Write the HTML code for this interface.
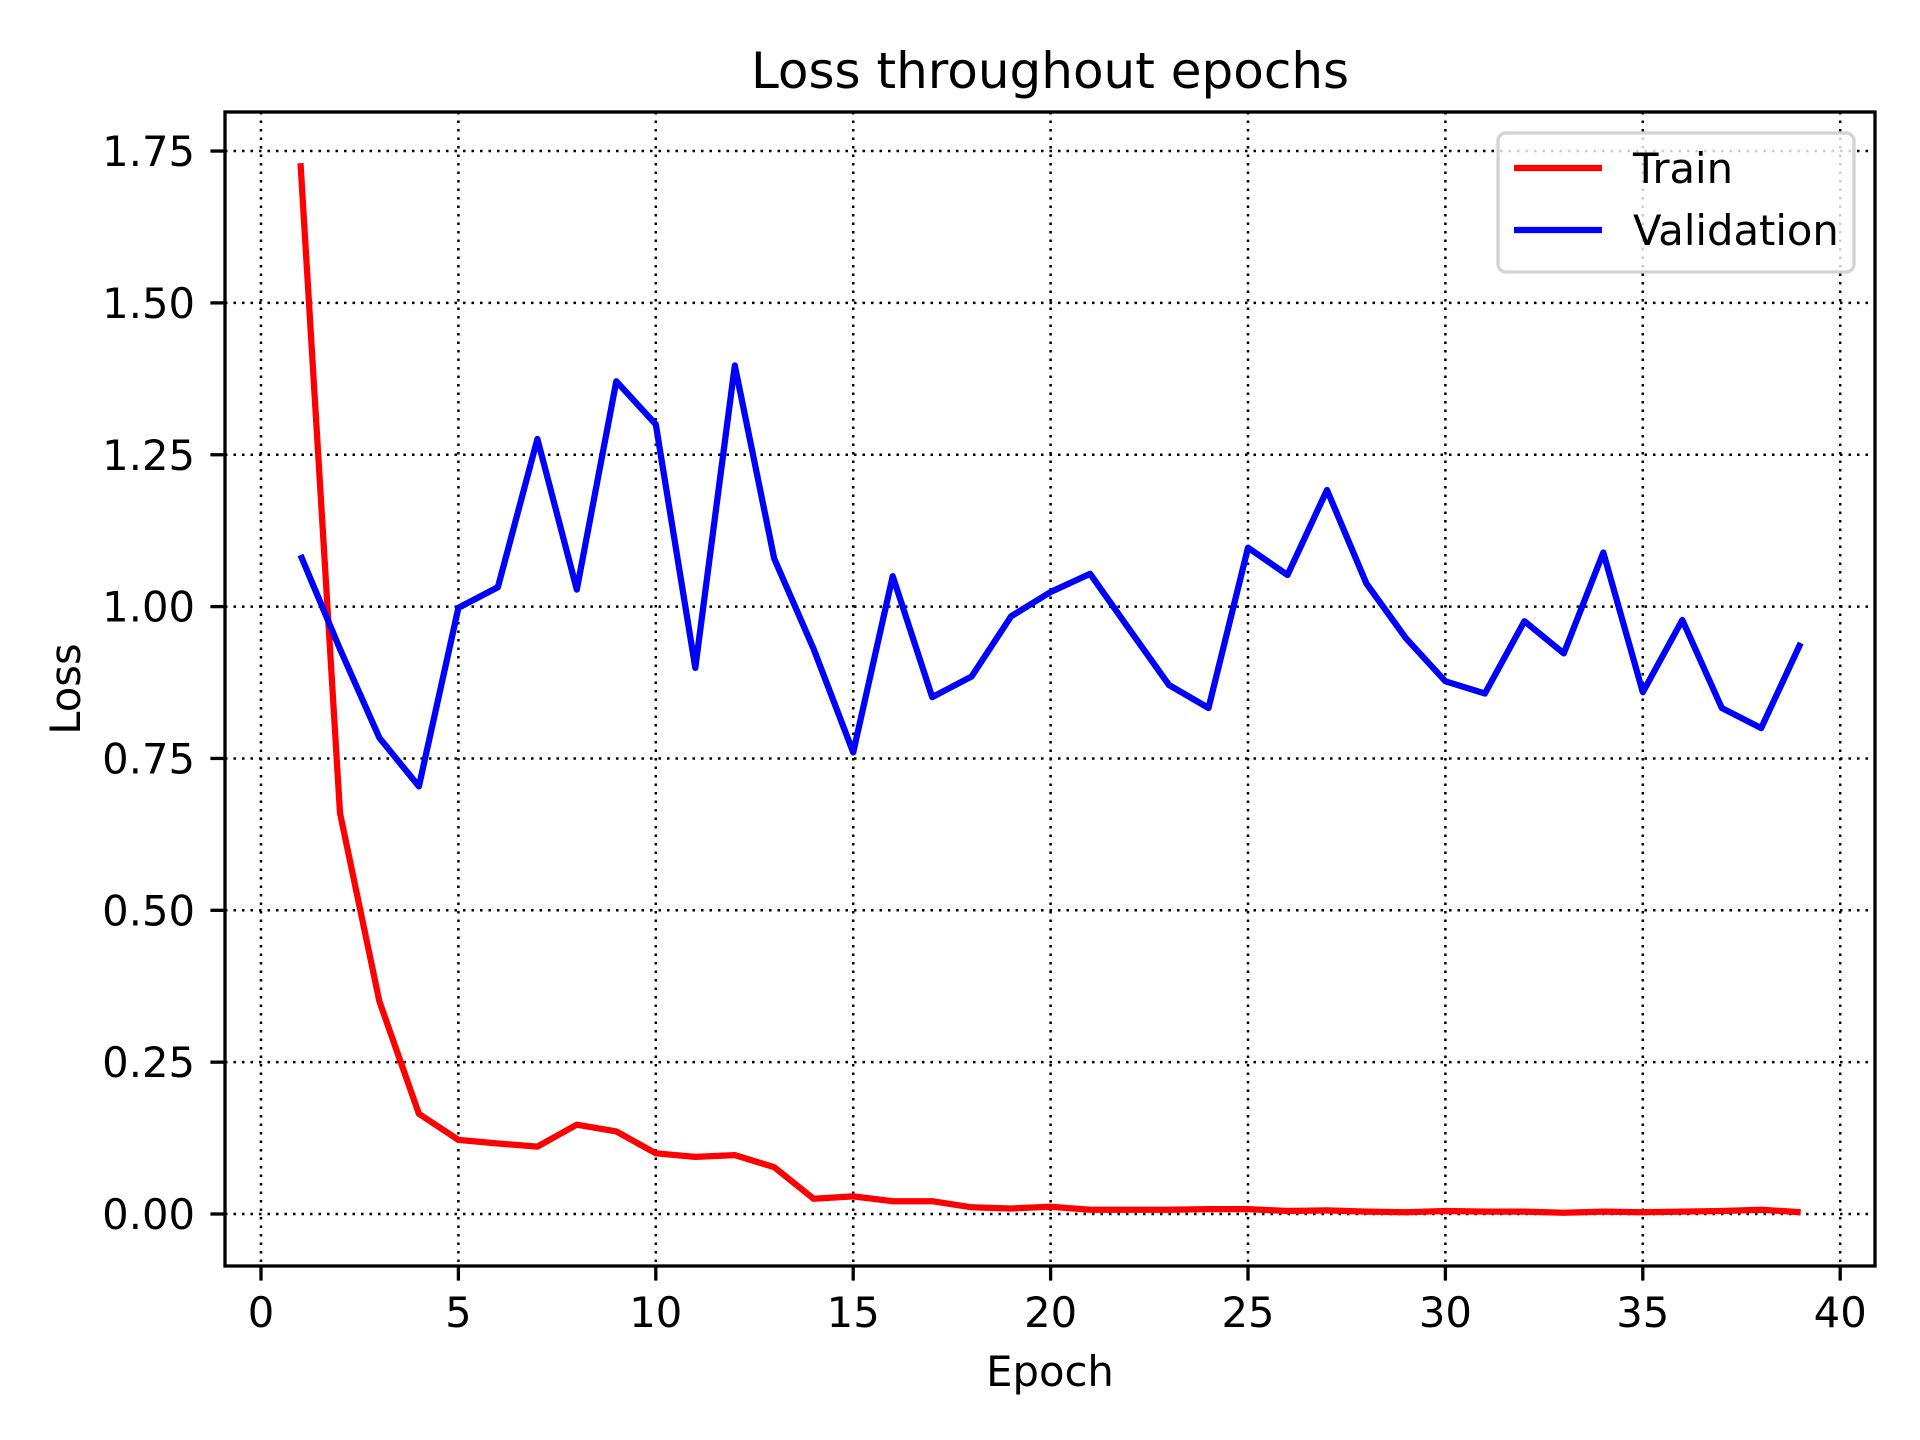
<!DOCTYPE html>
<html><head><meta charset="utf-8"><style>
html,body{margin:0;padding:0;background:#fff;}
svg{display:block;font-family:"DejaVu Sans","Liberation Sans",sans-serif;}
</style></head><body>
<svg id="chart" width="1920" height="1440" viewBox="0 0 1920 1440" xmlns="http://www.w3.org/2000/svg">
<rect width="1920" height="1440" fill="#fff"/>
<g id="grid"></g>
<g id="series"></g>
<rect x="225" y="112" width="1650" height="1154" fill="none" stroke="#000" stroke-width="3.3"/>
<g id="ticks"></g>
<text x="1050" y="88" font-size="50" text-anchor="middle">Loss throughout epochs</text>
<text x="1050" y="1386" font-size="41.7" text-anchor="middle">Epoch</text>
<text x="0" y="0" font-size="41.7" text-anchor="middle" transform="translate(80,689) rotate(-90)">Loss</text>
<g>
<rect x="1498" y="133" width="356" height="139" rx="8" fill="#fff" fill-opacity="0.8" stroke="#d3d3d3" stroke-width="3.3"/>
<line x1="1514" y1="168" x2="1602" y2="168" stroke="#ff0000" stroke-width="6.25"/>
<text x="1633" y="183" font-size="41.7">Train</text>
<line x1="1514" y1="230" x2="1602" y2="230" stroke="#0000ff" stroke-width="6.25"/>
<text x="1633" y="245" font-size="41.7">Validation</text>
</g>
</svg>
<script>
const epochs = [1,2,3,4,5,6,7,8,9,10,11,12,13,14,15,16,17,18,19,20,21,22,23,24,25,26,27,28,29,30,31,32,33,34,35,36,37,38,39];
const trainLoss = [1.73,0.66,0.35,0.165,0.122,0.116,0.111,0.147,0.136,0.1,0.094,0.097,0.077,0.025,0.029,0.021,0.021,0.011,0.009,0.012,0.007,0.007,0.007,0.008,0.008,0.005,0.006,0.004,0.003,0.005,0.004,0.004,0.002,0.004,0.003,0.004,0.005,0.007,0.003];
const valLoss = [1.085,0.93,0.784,0.704,0.998,1.032,1.276,1.028,1.371,1.30,0.899,1.397,1.079,0.93,0.76,1.05,0.851,0.885,0.984,1.024,1.054,0.962,0.871,0.833,1.097,1.052,1.192,1.038,0.948,0.877,0.857,0.976,0.923,1.089,0.859,0.978,0.833,0.800,0.94];
const xTicks = [0,5,10,15,20,25,30,35,40];
const yTicks = [0,0.25,0.5,0.75,1.0,1.25,1.5,1.75];
const yTickLabels = ["0.00","0.25","0.50","0.75","1.00","1.25","1.50","1.75"];

const NS="http://www.w3.org/2000/svg";
const X0=261, XS=39.48, Y0=1214, YS=607.4, L=225, R=1875, T=112, B=1266;
const sx=v=>X0+v*XS, sy=v=>Y0-v*YS;
function mk(tag,attrs,parent){const e=document.createElementNS(NS,tag);for(const k in attrs)e.setAttribute(k,attrs[k]);parent.appendChild(e);return e;}
const grid=document.getElementById('grid'), ticks=document.getElementById('ticks'), series=document.getElementById('series');
xTicks.forEach(v=>{
  const x=sx(v);
  const g=mk('line',{x1:x,y1:T,x2:x,y2:B,stroke:'#000','stroke-width':2.5,'stroke-dasharray':'2.5 6'},grid);
  
  
  const t=mk('line',{x1:x,y1:B,x2:x,y2:B+14.6,stroke:'#000','stroke-width':3.3},ticks);
  
  
  const l=mk('text',{x:x,y:1327,'font-size':41.7,'text-anchor':'middle'},ticks);
  l.textContent=String(v);
  
  
});
yTicks.forEach((v,i)=>{
  const y=sy(v);
  const g=mk('line',{x1:L,y1:y,x2:R,y2:y,stroke:'#000','stroke-width':2.5,'stroke-dasharray':'2.5 6'},grid);
  
  
  const t=mk('line',{x1:L-14.6,y1:y,x2:L,y2:y,stroke:'#000','stroke-width':3.3},ticks);
  
  
  const l=mk('text',{x:195,y:y+15,'font-size':41.7,'text-anchor':'end'},ticks);
  l.textContent=yTickLabels[i];
  
  
});
function line(vals,color,name){
  const pts=epochs.map((e,i)=>sx(e).toFixed(1)+','+sy(vals[i]).toFixed(1)).join(' ');
  const p=mk('polyline',{points:pts,fill:'none',stroke:color,'stroke-width':6.25,'stroke-linejoin':'round','stroke-linecap':'butt'},series);
  
  
}
line(trainLoss,'#ff0000','train-loss-line');
line(valLoss,'#0000ff','validation-loss-line');
</script>
</body></html>
